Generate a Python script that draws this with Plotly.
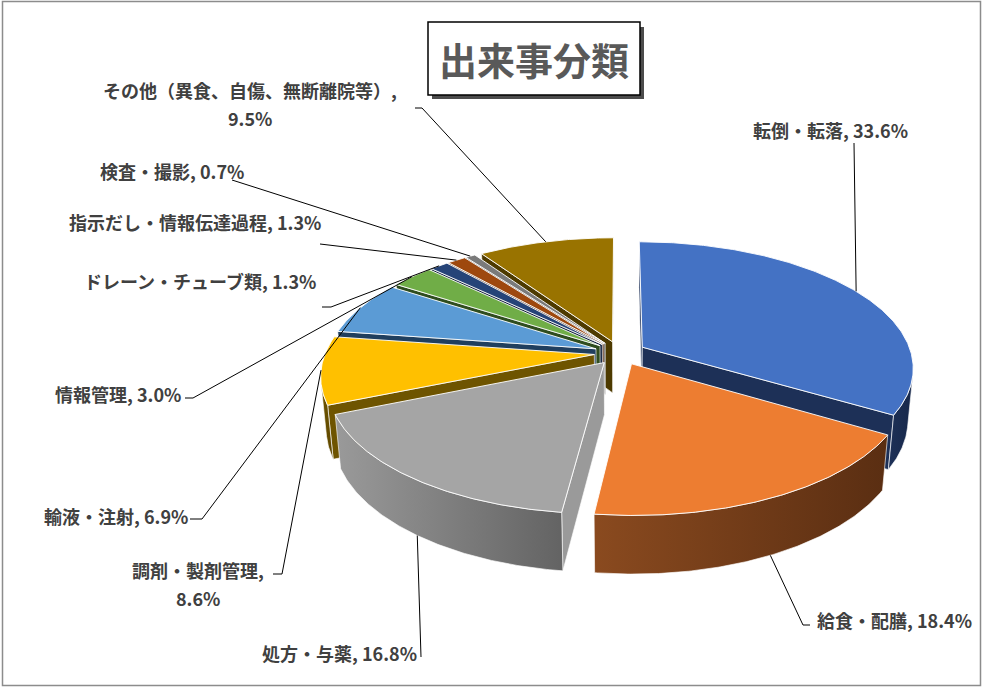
import numpy as np
import plotly.graph_objects as go

# data (percent of incidents)
labels = ["転倒・転落", "給食・配膳", "処方・与薬", "調剤・製剤管理", "輸液・注射",
          "情報管理", "ドレーン・チューブ類", "指示だし・情報伝達過程", "検査・撮影",
          "その他（異食、自傷、無断離院等）"]
values = [33.6, 18.4, 16.8, 8.6, 6.9, 3.0, 1.3, 1.3, 0.7, 9.5]
wrap_label = [False, False, False, True, False, False, False, False, False, True]

top_colors = ["#4472C4", "#ED7D31", "#A5A5A5", "#FFC000", "#5B9BD5",
              "#70AD47", "#264478", "#9E480E", "#7a7a7a", "#997300"]
side_light = ["#1d3057", "#8a4a1f", "#9a9a9a", "#6e5400", "#203f5e",
              "#2f4d1f", "#13223e", "#4f2408", "#3c3c3c", "#4d3a00"]
side_dark = ["#17284a", "#5a2e12", "#636363", "#5e4700", "#1a344e",
             "#263f19", "#0f1c33", "#401d06", "#303030", "#3f3000"]

# label placement (pixel space) and the leader-line points next to each label
label_xy = [(830, 130, "center"), (815, 620, "left"), (419, 653, "right"),
            (198, 570, "center"), (190, 516, "right"), (183, 394, "right"),
            (318, 281, "right"), (323, 222, "right"), (246, 171, "right"),
            (250, 90, "center")]
leader_pts = [[(854, 143)], [(810, 625), (803, 625)], [(421, 657)],
              [(273, 574), (282, 574)], [(190, 519), (202, 519)],
              [(185, 398), (193, 398)], [(322, 307), (331, 307)],
              [(320, 244)], [(232, 180)], [(415, 108), (422, 108)]]
LINE_GAP = 28

# 3D view parameters
W, H = 985, 688
S, CX, CY = 269.0, 620.0, 353.0
D = 5.6
PHI = np.radians(27.4)
SP, CP = np.sin(PHI), np.cos(PHI)
T = 0.22       # thickness
EXPL = 0.096   # explosion
CAM = np.array([0.0, -D * CP, D * SP])


def proj(X, Y, Z):
    X, Y, Z = np.asarray(X, float), np.asarray(Y, float), np.asarray(Z, float)
    f = D / (D + Y * CP - Z * SP)
    return CX + S * X * f, CY - S * (Y * SP + Z * CP) * f


def facing(normal, point):
    return float(np.dot(normal, CAM - np.asarray(point))) > 0


fig = go.Figure()
total = sum(values)
cum = np.concatenate([[0], np.cumsum(values)]) / total * 360.0

sides, tops, tips = [], [], []
for i, v in enumerate(values):
    a0, a1 = cum[i], cum[i + 1]
    mid = np.radians((a0 + a1) / 2)
    ox, oy = EXPL * np.sin(mid), EXPL * np.cos(mid)
    th = np.radians(np.linspace(a0, a1, max(int((a1 - a0) * 2), 2) + 1))
    ax_, ay_ = ox + np.sin(th), oy + np.cos(th)

    # top face
    px, py = proj(np.r_[ox, ax_, ox], np.r_[oy, ay_, oy], np.zeros(len(th) + 2))
    tops.append((px, py, top_colors[i]))

    # outer curved side
    vis = [facing((np.sin(a), np.cos(a), 0), (x, y, -T / 2)) for a, x, y in zip(th, ax_, ay_)]
    idx = np.where(vis)[0]
    if len(idx):
        k0, k1 = idx.min(), idx.max() + 1
        xs, ys = ax_[k0:k1], ay_[k0:k1]
        if len(xs) < 2:
            xs, ys = ax_[max(k0 - 1, 0):k1 + 1], ay_[max(k0 - 1, 0):k1 + 1]
        sx, sy = proj(np.r_[xs, xs[::-1], xs[0]], np.r_[ys, ys[::-1], ys[0]],
                      np.r_[np.zeros(len(xs)), -T * np.ones(len(xs)), 0])
        c = np.array([xs.mean(), ys.mean(), -T / 2])
        sides.append((np.linalg.norm(CAM - c), sx, sy, side_light[i], side_dark[i], True))

    # radial faces
    for ang, nrm in ((th[0], (-np.cos(th[0]), np.sin(th[0]), 0)),
                     (th[-1], (np.cos(th[-1]), -np.sin(th[-1]), 0))):
        ex, ey = ox + np.sin(ang), oy + np.cos(ang)
        c = np.array([(ox + ex) / 2, (oy + ey) / 2, -T / 2])
        if facing(nrm, c):
            sx, sy = proj([ox, ex, ex, ox, ox], [oy, ey, ey, oy, oy], [0, 0, -T, -T, 0])
            sides.append((np.linalg.norm(CAM - c), sx, sy, side_light[i], side_dark[i], False))

    # leader tip: top rim for back slices, bottom rim for front slices
    z_tip = -T if np.cos(mid) < -0.7 else 0.0
    tx, ty = proj(ox + np.sin(mid), oy + np.cos(mid), z_tip)
    tips.append((float(tx), float(ty)))

for dist, sx, sy, c1, c2, grad in sorted(sides, key=lambda s: -s[0]):
    kw = dict(fillgradient=dict(type="horizontal", colorscale=[[0, c1], [1, c2]])) if grad else dict(fillcolor=c1)
    fig.add_trace(go.Scatter(x=sx, y=sy, mode="lines", fill="toself",
                             line=dict(color="rgba(255,255,255,0.8)", width=0.8),
                             hoverinfo="skip", showlegend=False, **kw))

for px, py, col in tops:
    fig.add_trace(go.Scatter(x=px, y=py, mode="lines", fill="toself", fillcolor=col,
                             line=dict(color="rgba(255,255,255,0.9)", width=1),
                             hoverinfo="skip", showlegend=False))

# leader lines and labels
label_font = dict(family="Noto Sans CJK JP", size=18, color="#404040", weight="bold")
for i, v in enumerate(values):
    pts = leader_pts[i] + [tips[i]]
    fig.add_trace(go.Scatter(x=[p[0] for p in pts], y=[p[1] for p in pts], mode="lines",
                             line=dict(color="black", width=1),
                             hoverinfo="skip", showlegend=False))
    lx, ly, anc = label_xy[i]
    lines = [f"{labels[i]},", f"{v:.1f}%"] if wrap_label[i] else [f"{labels[i]}, {v:.1f}%"]
    for k, txt in enumerate(lines):
        fig.add_annotation(x=lx, y=ly + k * LINE_GAP, xref="x", yref="y", text=txt,
                           showarrow=False, xanchor=anc, yanchor="middle",
                           font=label_font)

# title box with shadow
fig.add_shape(type="rect", xref="x", yref="y", x0=432, y0=27, x1=644, y1=99,
              fillcolor="rgba(0,0,0,0.7)", line=dict(width=0), layer="above")
fig.add_shape(type="rect", xref="x", yref="y", x0=428, y0=22, x1=640, y1=95,
              fillcolor="white", line=dict(color="black", width=1.5), layer="above")
fig.add_annotation(x=534, y=58, xref="x", yref="y", text="出来事分類", showarrow=False,
                   font=dict(family="Noto Sans CJK JP", size=38, color="#595959", weight="bold"))

# chart frame
fig.add_shape(type="rect", xref="x", yref="y", x0=2.5, y0=1.5, x1=980.5, y1=685.5,
              line=dict(color="#8c8c8c", width=1.5), fillcolor="rgba(0,0,0,0)")

fig.update_xaxes(range=[0, W], visible=False, fixedrange=True)
fig.update_yaxes(range=[H, 0], visible=False, fixedrange=True)
fig.update_layout(width=W, height=H, margin=dict(l=0, r=0, t=0, b=0),
                  paper_bgcolor="white", plot_bgcolor="white")

fig.write_html("out.html", config={"displayModeBar": False},
               post_script="document.body.style.margin='0';")
